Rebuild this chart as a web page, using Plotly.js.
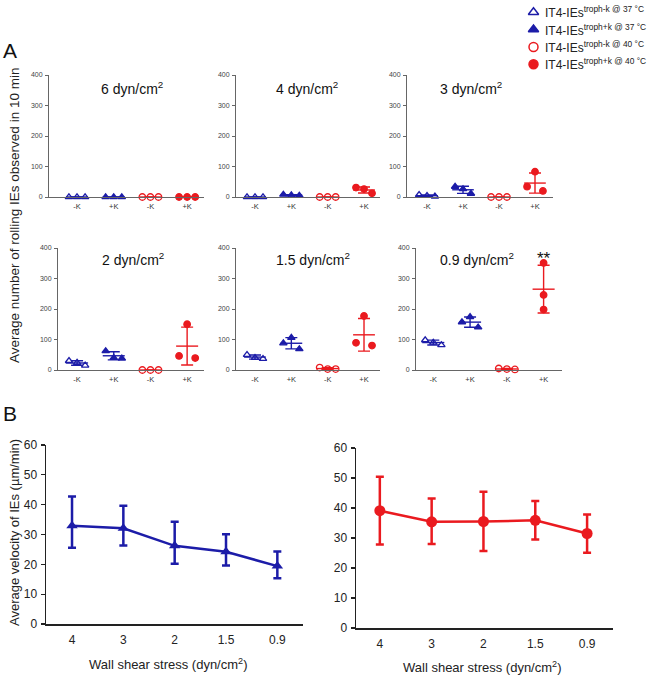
<!DOCTYPE html>
<html>
<head>
<meta charset="utf-8">
<script src="https://cdn.plot.ly/plotly-3.0.1.min.js"></script>
<style>body{margin:0;background:#fff}#plot{width:653px;height:677px}</style>
</head>
<body>
<div id="plot"></div>
<script>
// panel A: rolling IEs per 10 min, three flow chambers per group
const groupLabels = ['-K', '+K', '-K', '+K'];
const shearA = ['6', '4', '3', '2', '1.5', '0.9'];
const minus37 = [[0, 0, 0], [0, 0, 0], [7, 4, 2], [30, 24, 15], [50, 40, 37], [98, 90, 82]];
const plus37 = [[0, 0, 0], [8, 6, 5], [34, 26, 11], [62, 40, 38], [88, 106, 69], [157, 174, 140]];
const minus40 = [[0, 0, 0], [0, 0, 0], [0, 0, 0], [0, 0, 0], [8, 3, 3], [5, 3, 2]];
const plus40 = [[0, 0, 0], [31, 26, 12], [34, 83, 20], [46, 150, 39], [89, 177, 80], [351, 246, 198]];
const legendNames = [
    'IT4-IEs<sup>troph-k @ 37 °C</sup>',
    'IT4-IEs<sup>troph+k @ 37 °C</sup>',
    'IT4-IEs<sup>troph-k @ 40 °C</sup>',
    'IT4-IEs<sup>troph+k @ 40 °C</sup>'
];

// panel B: velocity (mean with upper / lower whisker)
const shearB = ['4', '3', '2', '1.5', '0.9'];
const vel37 = [32.9, 32.1, 26.2, 24.2, 19.4];
const vel37Up = [42.7, 39.6, 34.3, 30.1, 24.3];
const vel37Low = [25.6, 26.3, 20.2, 19.6, 15.3];
const vel40 = [39.1, 35.4, 35.5, 35.9, 31.5];
const vel40Up = [50.4, 43.2, 45.4, 42.3, 37.8];
const vel40Low = [27.8, 28.0, 25.7, 29.5, 25.1];

const W = 653, H = 677;
const px = v => v / W;
const py = v => 1 - v / H;
const BLUE = '#1c1ca8';
const RED = '#ea1a1f';
const FONT = 'Liberation Sans, Arial, sans-serif';

const series = [
    {pts: minus37, color: BLUE, symbol: 'triangle-up-open'},
    {pts: plus37, color: BLUE, symbol: 'triangle-up'},
    {pts: minus40, color: RED, symbol: 'circle-open'},
    {pts: plus40, color: RED, symbol: 'circle'}
];

// pixel boxes of the six small panels [left, right, top, bottom] and their x ranges
const boxesA = [
    [49, 204, 75, 197, 0.237, 4.46],
    [236, 380, 75, 197, 0.477, 4.44],
    [407, 553, 75, 197, 0.444, 4.5],
    [58, 204, 248, 370, 0.48, 4.46],
    [236, 380, 248, 370, 0.477, 4.44],
    [416, 562, 248, 370, 0.53, 4.5]
];
const titlePos = [[2.5, 357], [2.43, 357], [2.22, 357], [2.53, 364], [2.6, 364], [2.2, 364]];
const jitter = [-0.22, 0, 0.22];

function mean(a) { return a.reduce((s, v) => s + v, 0) / a.length; }
function sd(a) {
    const m = mean(a);
    return Math.sqrt(a.reduce((s, v) => s + (v - m) * (v - m), 0) / (a.length - 1));
}

function note(x, y, text, size, extra) {
    return Object.assign({
        xref: 'paper', yref: 'paper', x: px(x), y: py(y), text: text,
        xanchor: 'center', yanchor: 'middle', showarrow: false,
        font: {size: size, color: '#222'}
    }, extra || {});
}

const traces = [];
const layout = {
    width: W, height: H,
    margin: {l: 0, r: 0, t: 0, b: 0},
    paper_bgcolor: '#fff', plot_bgcolor: 'rgba(0,0,0,0)',
    showlegend: false,
    font: {family: FONT, color: '#222'},
    annotations: []
};

boxesA.forEach((b, p) => {
    const n = p === 0 ? '' : String(p + 1);
    layout['xaxis' + n] = {
        domain: [px(b[0]), px(b[1])], anchor: 'y' + n,
        range: [b[4], b[5]], showgrid: false, zeroline: false,
        showline: true, linecolor: '#666', linewidth: 1,
        tickvals: [1, 2, 3, 4], ticktext: groupLabels, ticks: '',
        tickfont: {size: 7.5, color: '#333'}, ticklabelstandoff: 2
    };
    layout['yaxis' + n] = {
        domain: [py(b[3]), py(b[2])], anchor: 'x' + n,
        range: [0, 400], showgrid: false, zeroline: false,
        showline: true, linecolor: '#666', linewidth: 1,
        tickvals: [0, 100, 200, 300, 400], ticks: 'outside', ticklen: 3,
        tickcolor: '#666', tickfont: {size: 7, color: '#444'}, ticklabelstandoff: 1
    };
    series.forEach((s, g) => {
        const vals = s.pts[p];
        const spread = (p === 5 && g === 3) ? 0 : 1;
        traces.push({
            x: [g + 1], y: [mean(vals)], xaxis: 'x' + n, yaxis: 'y' + n,
            mode: 'markers', marker: {size: 2, opacity: 0}, cliponaxis: false,
            error_x: {type: 'constant', value: 0.3, width: 0, thickness: 1.4, color: s.color},
            error_y: {type: 'data', array: [sd(vals)], width: 6, thickness: 1.4, color: s.color},
            hoverinfo: 'skip'
        });
        traces.push({
            x: vals.map((v, i) => g + 1 + jitter[i] * spread), y: vals,
            xaxis: 'x' + n, yaxis: 'y' + n, mode: 'markers', cliponaxis: false,
            marker: {symbol: s.symbol, size: 6.5, color: s.color, line: {width: 1.3, color: s.color}}
        });
    });
    layout.annotations.push({
        xref: 'x' + n, yref: 'y' + n, x: titlePos[p][0], y: titlePos[p][1],
        xanchor: 'center', yanchor: 'middle',
        text: shearA[p] + ' dyn/cm<sup>2</sup>', showarrow: false,
        font: {size: 14, color: '#111'}
    });
});

layout.annotations.push({
    xref: 'x6', yref: 'y6', x: 4, y: 367, xanchor: 'center', yanchor: 'middle',
    text: '**', showarrow: false, font: {size: 17, color: '#111'}
});

// panel B axes
const boxesB = [[46, 303, 445, 624, -0.507, 4.5], [356, 613, 448, 628, -0.46, 4.5]];
const velSets = [[vel37, vel37Up, vel37Low, BLUE, 'triangle-up', 10], [vel40, vel40Up, vel40Low, RED, 'circle', 11]];
boxesB.forEach((b, k) => {
    const n = String(k + 7);
    layout['xaxis' + n] = {
        domain: [px(b[0]), px(b[1])], anchor: 'y' + n, type: 'category',
        range: [b[4], b[5]], showgrid: false, zeroline: false,
        showline: true, linecolor: '#222', linewidth: 1.5, ticks: '',
        tickfont: {size: 12, color: '#222'}, ticklabelstandoff: 4
    };
    layout['yaxis' + n] = {
        domain: [py(b[3]), py(b[2])], anchor: 'x' + n,
        range: [0, 60], showgrid: false, zeroline: false,
        showline: true, linecolor: '#222', linewidth: 1.5,
        tickvals: [0, 10, 20, 30, 40, 50, 60], ticks: 'outside', ticklen: 4,
        tickcolor: '#222', tickwidth: 1.2, tickfont: {size: 12, color: '#222'}, ticklabelstandoff: 1
    };
    const v = velSets[k];
    traces.push({
        x: shearB, y: v[0], xaxis: 'x' + n, yaxis: 'y' + n,
        mode: 'lines+markers', cliponaxis: false,
        line: {color: v[3], width: 2.5},
        marker: {symbol: v[4], size: v[5], color: v[3]},
        error_y: {
            type: 'data', symmetric: false,
            array: v[1].map((u, i) => u - v[0][i]),
            arrayminus: v[2].map((l, i) => v[0][i] - l),
            width: 4, thickness: 2.5, color: v[3]
        }
    });
    layout.annotations.push(note(k === 0 ? 168 : 482, k === 0 ? 664 : 667,
        'Wall shear stress (dyn/cm<sup>2</sup>)', 13));
});

// legend drawn on its own small axis
layout.xaxis9 = {domain: [px(524), px(544)], anchor: 'y9', range: [-1, 1], visible: false, fixedrange: true};
layout.yaxis9 = {domain: [py(73), py(3.5)], anchor: 'x9', range: [3.5, -0.5], visible: false, fixedrange: true};
series.forEach((s, g) => {
    traces.push({
        x: [-0.05], y: [g], xaxis: 'x9', yaxis: 'y9', mode: 'markers', cliponaxis: false,
        marker: {symbol: s.symbol, size: 9, color: s.color, line: {width: 1.5, color: s.color}}
    });
    layout.annotations.push({
        xref: 'paper', yref: 'y9', x: px(543), y: g, xanchor: 'left', yanchor: 'middle',
        text: legendNames[g], showarrow: false, font: {size: 12, color: '#222'}
    });
});

// panel letters and shared y titles
layout.annotations.push(
    note(10, 50, 'A', 21, {font: {size: 21, color: '#111'}}),
    note(10, 413, 'B', 21, {font: {size: 21, color: '#111'}}),
    note(14, 216, 'Average number of rolling IEs observed in 10 min', 13.5, {textangle: -90}),
    note(14, 533, 'Average velocity of IEs (µm/min)', 13, {textangle: -90})
);

Plotly.newPlot('plot', traces, layout, {staticPlot: true});
</script>
</body>
</html>
